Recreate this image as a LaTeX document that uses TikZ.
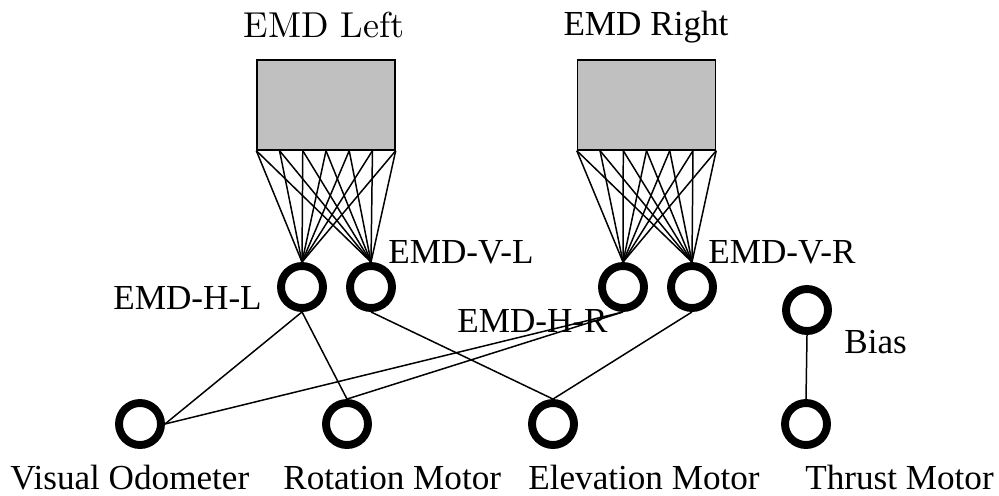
\documentclass[tikz,border=0pt]{standalone}
\usepackage{fontspec}
\setmainfont{Liberation Serif}
\usetikzlibrary{calc}
\definecolor{boxgray}{RGB}{192,192,192}
\newcommand\cmfont{\fontfamily{lmr}\fontsize{10}{12}\selectfont}

\begin{document}
\begin{tikzpicture}[x=0.02cm, y=-0.02cm,
    unit/.style={draw, circle, line width=4.5pt, minimum size=0.84cm, inner sep=0pt},
    emdbox/.style={draw, rectangle, fill=boxgray, line width=0.8pt,
                   minimum width=2.76cm, minimum height=1.8cm},
    wire/.style={line width=0.85pt},
    lbl/.style={inner sep=0pt, font=\fontsize{20}{24}\selectfont}]

    \useasboundingbox (0,0) rectangle (999,495);

    % EMD arrays
    \node[emdbox] (emdl) at (326, 105) {};
    \node[emdbox] (emdr) at (646.5, 105) {};
    \node[inner sep=0pt, anchor=base, scale=2.05, font=\cmfont] (emdltxt) at (324, 37) {EMD Left};
    \node[lbl, anchor=base] (emdrtxt) at (646, 35) {EMD Right};

    % hidden units
    \node[unit] (hl) at (302, 287) {};
    \node[unit] (vl) at (371, 287) {};
    \node[unit] (hr) at (623, 287) {};
    \node[unit] (vr) at (692, 287) {};
    \node[unit] (bias) at (807, 310) {};

    % output units
    \node[unit] (vo) at (140, 424) {};
    \node[unit] (rm) at (347, 424) {};
    \node[unit] (em) at (553, 424) {};
    \node[unit] (tm) at (806, 424) {};

    % fan-in from the arrays
    \foreach \i in {0,...,6} {
        \draw[wire] ($(emdl.south west)!\i/6!(emdl.south east)$) -- (hl.north);
        \draw[wire] ($(emdl.south west)!\i/6!(emdl.south east)$) -- (vl.north);
        \draw[wire] ($(emdr.south west)!\i/6!(emdr.south east)$) -- (hr.north);
        \draw[wire] ($(emdr.south west)!\i/6!(emdr.south east)$) -- (vr.north);
    }

    % hidden to output
    \draw[wire] (hl.south) -- (vo.east);
    \draw[wire] (hl.south) -- (rm.north);
    \draw[wire] (hr.south) -- (vo.east);
    \draw[wire] (hr.south) -- (rm.north);
    \draw[wire] (vl.south) -- (em.north);
    \draw[wire] (vr.south) -- (em.north);
    \draw[wire] (bias.south) -- (tm.north);

    % labels
    \node[lbl, anchor=base west] (hltxt) at (113, 309) {EMD-H-L};
    \node[lbl, anchor=base west] (vltxt) at (388, 263) {EMD-V-L};
    \node[lbl, anchor=base west] (hrtxt) at (457, 332) {EMD-H-R};
    \node[lbl, anchor=base west] (vrtxt) at (708, 263) {EMD-V-R};
    \node[lbl, anchor=base west] (biastxt) at (844, 353) {Bias};
    \node[lbl, anchor=base west] (votxt) at (10, 489) {Visual Odometer};
    \node[lbl, anchor=base west] (rmtxt) at (283, 489) {Rotation Motor};
    \node[lbl, anchor=base west] (emtxt) at (528, 489) {Elevation Motor};
    \node[lbl, anchor=base west] (tmtxt) at (805, 489) {Thrust Motor};

\end{tikzpicture}
\end{document}
